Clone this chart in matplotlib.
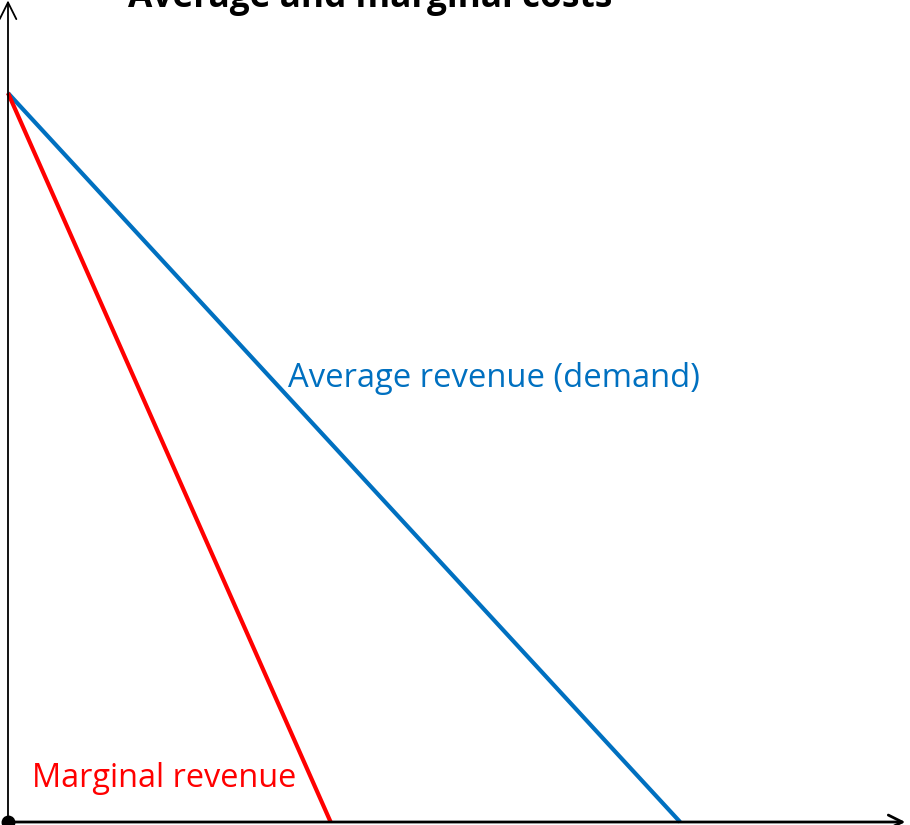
import matplotlib
matplotlib.use("Agg")
import matplotlib.pyplot as plt

# Curvas de receita (quantidade, preço)
ar_q = [0, 100]
ar_p = [100, 0]
mr_q = [0, 48]
mr_p = [100, 0]

titulo = "Average and marginal costs"
rotulo_ar = "Average revenue (demand)"
rotulo_mr = "Marginal revenue"

azul = "#0070C0"
vermelho = "#FF0000"

plt.rcParams["font.family"] = ["Open Sans", "DejaVu Sans"]

fig = plt.figure(figsize=(9.1, 8.25), dpi=100)
ax = fig.add_axes([0, 0, 1, 1])
ax.set_xlim(-1.19, 134.2)
ax.set_ylim(-0.41, 112.76)
ax.axis("off")

# Eixos com setas
ax.annotate("", xy=(0, 112.7), xytext=(0, 0),
            arrowprops=dict(arrowstyle="->,head_length=1.2,head_width=0.6",
                            color="black", lw=1.3, shrinkA=0, shrinkB=0))
ax.annotate("", xy=(133.5, 0), xytext=(0, 0),
            arrowprops=dict(arrowstyle="->,head_length=1.0,head_width=0.5",
                            color="black", lw=2.0, shrinkA=0, shrinkB=0))

ax.plot(ar_q, ar_p, color=azul, lw=3.0, solid_capstyle="butt")
ax.plot(mr_q, mr_p, color=vermelho, lw=3.0, solid_capstyle="butt")
ax.plot([0], [0], "o", color="black", ms=9, clip_on=False)

ax.text(41.7, 60.8, rotulo_ar, color=azul, fontsize=23.6, va="center", ha="left")
ax.text(3.6, 6.0, rotulo_mr, color=vermelho, fontsize=23.4, va="center", ha="left")

# Título parcialmente cortado no topo, como na referência
fig.text(370 / 910, 1 - 7 / 825, titulo, fontsize=25.4, fontweight="bold",
         ha="center", va="baseline")

fig.savefig("out.png", dpi=100)
plt.close(fig)
